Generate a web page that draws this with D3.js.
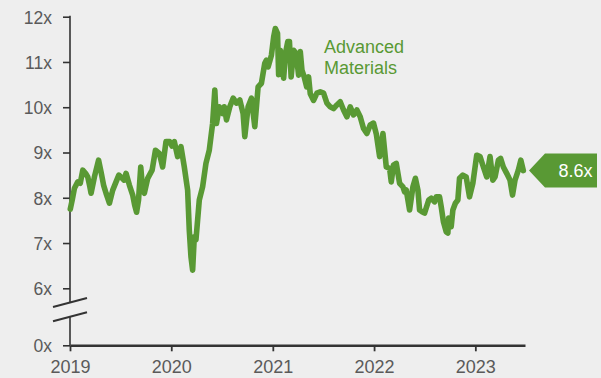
<!DOCTYPE html>
<html>
<head>
<meta charset="utf-8">
<script src="https://cdn.jsdelivr.net/npm/d3@7"></script>
<style>
  html, body { margin: 0; padding: 0; background: #eeeeee; }
  svg { display: block; }
  text { font-family: "Liberation Sans", Arial, sans-serif; }
</style>
</head>
<body>
<svg id="chart" width="601" height="378"></svg>
<script>
// Forward P/E multiple, Advanced Materials
const dates = [
  "2019-01-02","2019-01-09","2019-01-17","2019-01-29","2019-02-07","2019-02-16","2019-02-26","2019-03-06",
  "2019-03-13","2019-03-18","2019-03-30","2019-04-14","2019-04-23","2019-05-02","2019-05-11","2019-05-23",
  "2019-06-04","2019-06-16","2019-06-26","2019-07-08","2019-07-15","2019-07-22","2019-08-03","2019-08-15",
  "2019-08-22","2019-08-29","2019-09-05","2019-09-13","2019-09-20","2019-09-26","2019-10-08","2019-10-24",
  "2019-11-05","2019-11-19","2019-12-01","2019-12-13","2019-12-26",
  "2020-01-04","2020-01-12","2020-01-24","2020-02-05","2020-02-17","2020-02-29","2020-03-06","2020-03-12",
  "2020-03-18","2020-03-24","2020-03-30","2020-04-05","2020-04-11","2020-04-23","2020-05-05","2020-05-17",
  "2020-05-29","2020-06-06","2020-06-12","2020-06-22","2020-07-04","2020-07-10","2020-07-18","2020-07-30",
  "2020-08-11","2020-08-23","2020-09-04","2020-09-16","2020-09-22","2020-10-04","2020-10-16","2020-10-28",
  "2020-11-09","2020-11-21","2020-12-03","2020-12-09","2020-12-15","2020-12-27",
  "2021-01-04","2021-01-10","2021-01-18","2021-01-22","2021-01-28","2021-02-09","2021-02-16","2021-02-24",
  "2021-03-02","2021-03-08","2021-03-17","2021-03-26","2021-04-04","2021-04-10","2021-04-16","2021-04-24",
  "2021-05-03","2021-05-10","2021-05-16","2021-05-28","2021-06-09",
  "2021-06-21","2021-07-03","2021-07-15","2021-07-27","2021-08-08","2021-08-20","2021-09-01","2021-09-13",
  "2021-09-25","2021-10-07","2021-10-19","2021-10-31","2021-11-12","2021-11-24","2021-12-06","2021-12-18",
  "2021-12-30",
  "2022-01-09","2022-01-21","2022-02-02","2022-02-08","2022-02-14","2022-02-26","2022-03-04","2022-03-12",
  "2022-03-22","2022-04-03","2022-04-15","2022-04-21","2022-04-27","2022-05-09","2022-05-21","2022-05-30",
  "2022-06-08","2022-06-14","2022-06-23","2022-07-02","2022-07-17","2022-07-26","2022-08-07","2022-08-13",
  "2022-08-25","2022-08-31","2022-09-08","2022-09-18","2022-09-24","2022-09-27","2022-10-06","2022-10-12",
  "2022-10-21","2022-10-30","2022-11-05","2022-11-17","2022-11-29","2022-12-11","2022-12-23",
  "2023-01-06","2023-01-18","2023-01-30","2023-02-11","2023-02-23","2023-03-05","2023-03-13","2023-03-25",
  "2023-04-02","2023-04-12","2023-04-24","2023-05-06","2023-05-15","2023-05-24","2023-06-05","2023-06-14",
  "2023-06-23"
];
const multiples = [
  7.75,7.95,8.21,8.35,8.32,8.61,8.54,8.46,
  8.26,8.10,8.46,8.83,8.57,8.28,8.10,7.88,
  8.17,8.35,8.50,8.43,8.39,8.54,8.28,8.06,
  7.84,7.68,7.95,8.68,8.17,8.10,8.43,8.61,
  9.05,8.98,8.68,9.24,9.24,
  9.14,9.24,8.91,9.13,8.68,8.17,7.28,6.70,
  6.40,7.14,7.07,7.51,7.95,8.24,8.76,9.05,
  9.64,10.38,9.64,10.01,9.86,10.01,9.72,10.01,
  10.20,10.09,10.16,9.86,9.35,10.01,10.20,9.57,
  10.45,10.53,10.97,11.04,10.89,11.15,
  11.55,11.74,11.63,10.72,11.26,10.64,11.20,11.45,
  11.45,10.67,11.26,11.19,10.71,11.23,10.82,10.67,
  10.45,10.67,10.30,10.15,10.31,
  10.34,10.31,10.09,10.01,9.97,10.05,10.12,9.94,
  9.79,10.01,9.83,9.94,9.79,9.53,9.42,9.61,
  9.65,
  9.41,8.91,9.42,9.05,8.68,8.65,8.35,8.72,
  8.76,8.32,8.24,8.13,8.17,7.73,8.24,8.43,
  8.17,7.73,7.69,7.66,7.95,7.99,7.91,8.02,
  8.02,7.80,7.47,7.25,7.22,7.55,7.36,7.73,
  7.88,7.95,8.43,8.50,8.46,8.02,8.32,
  8.94,8.91,8.68,8.46,8.91,8.39,8.46,8.83,
  8.87,8.68,8.54,8.39,8.06,8.39,8.61,8.83,
  8.60
];
const yTickValues = [0, 6, 7, 8, 9, 10, 11, 12];
const xTickYears = ["2019", "2020", "2021", "2022", "2023"];
const seriesName = ["Advanced", "Materials"];
const latestValue = 8.6;

const green = "#599934";
const axisColor = "#333333";
const labelColor = "#5a5a5a";

const parse = d3.timeParse("%Y-%m-%d");
const data = dates.map((d, i) => ({ date: parse(d), value: multiples[i] }));

const svg = d3.select("#chart");
svg.append("rect").attr("width", 601).attr("height", 378).attr("fill", "#eeeeee");

const x = d3.scaleTime()
  .domain([parse("2019-01-01"), parse("2023-06-29")])
  .range([70, 525]);

// Broken value axis: 0 sits below a compressed gap, 6x–12x is the live range
const y = d3.scaleLinear()
  .domain([0, 6, 12])
  .range([345.3, 288.3, 16.7]);

// y axis ticks and labels
const yAxis = d3.axisLeft(y)
  .tickValues(yTickValues)
  .tickSize(7)
  .tickPadding(11)
  .tickFormat(d => d + "x");
const gy = svg.append("g").attr("transform", "translate(70,0)").call(yAxis);
gy.select(".domain").remove();
gy.selectAll(".tick line").attr("stroke", axisColor).attr("stroke-width", 1.6);
gy.selectAll(".tick text")
  .attr("fill", labelColor)
  .style("font-size", "17.5px")
  .attr("dy", "0.36em");

// y axis line with a break between 0x and 6x
const breakTop = y(4.5), breakBottom = y(3);
svg.append("line").attr("x1", 70).attr("x2", 70).attr("y1", y(12) - 1).attr("y2", breakTop)
  .attr("stroke", axisColor).attr("stroke-width", 1.6);
svg.append("line").attr("x1", 70).attr("x2", 70).attr("y1", breakBottom).attr("y2", y(0))
  .attr("stroke", axisColor).attr("stroke-width", 1.6);
[breakTop, breakBottom].forEach(by => {
  svg.append("line")
    .attr("x1", 53).attr("y1", by + 4.5)
    .attr("x2", 87).attr("y2", by - 4.5)
    .attr("stroke", axisColor).attr("stroke-width", 2);
});

// x axis
const xAxis = d3.axisBottom(x)
  .tickValues(xTickYears.map(d => d3.timeParse("%Y")(d)))
  .tickSizeInner(6)
  .tickSizeOuter(0)
  .tickPadding(9)
  .tickFormat(d3.timeFormat("%Y"));
const gx = svg.append("g").attr("transform", `translate(0,${y(0)})`).call(xAxis);
gx.select(".domain").attr("stroke", axisColor).attr("stroke-width", 2.4);
gx.selectAll(".tick line").attr("stroke", axisColor).attr("stroke-width", 1.8);
gx.selectAll(".tick text")
  .attr("fill", labelColor)
  .style("font-size", "18px");

// series line
const line = d3.line()
  .x(d => x(d.date))
  .y(d => y(d.value))
  .curve(d3.curveLinear);
svg.append("path")
  .datum(data)
  .attr("d", line)
  .attr("fill", "none")
  .attr("stroke", green)
  .attr("stroke-width", 5.6)
  .attr("stroke-linejoin", "round")
  .attr("stroke-linecap", "round");

// series name
const nameText = svg.append("text")
  .attr("x", 324).attr("y", 53)
  .attr("fill", green)
  .style("font-size", "18px");
seriesName.forEach((s, i) => {
  nameText.append("tspan").attr("x", 324).attr("dy", i === 0 ? 0 : 21).text(s);
});

// latest value tag
const ty = y(latestValue);
const tipX = 529, boxL = 545, boxR = 597, half = 17;
svg.append("path")
  .attr("d", `M${tipX},${ty} L${boxL},${ty - half} L${boxR},${ty - half} L${boxR},${ty + half} L${boxL},${ty + half} Z`)
  .attr("fill", green);
svg.append("text")
  .attr("x", 575.5).attr("y", ty)
  .attr("dy", "0.36em")
  .attr("text-anchor", "middle")
  .attr("fill", "#ffffff")
  .style("font-size", "18px")
  .text(latestValue.toFixed(1) + "x");
</script>
</body>
</html>
